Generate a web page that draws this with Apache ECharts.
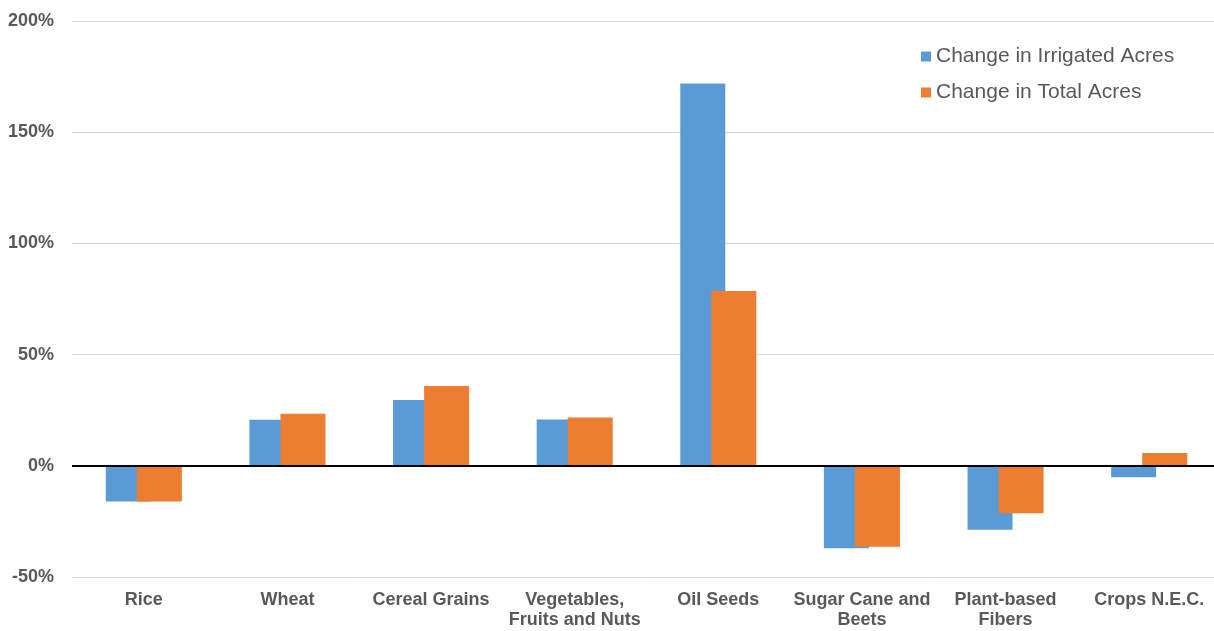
<!DOCTYPE html>
<html>
<head>
<meta charset="utf-8">
<script src="https://cdn.jsdelivr.net/npm/echarts@6/dist/echarts.min.js"></script>
<style>
  html, body { margin: 0; padding: 0; background: #fff; overflow: hidden; width: 1214px; height: 631px; }
  #chart { width: 1221px; height: 631px; }
</style>
</head>
<body>
<div id="chart"></div>
<script>
// Crop categories (two-line labels use \n)
const categories = [
  'Rice', 'Wheat', 'Cereal Grains', 'Vegetables,\nFruits and Nuts',
  'Oil Seeds', 'Sugar Cane and\nBeets', 'Plant-based\nFibers', 'Crops N.E.C.'
];
// Percent change by crop
const irrigatedChange = [-16.0, 20.7, 29.6, 20.8, 171.9, -37.1, -28.8, -5.2];
const totalChange = [-16.0, 23.4, 35.9, 21.7, 78.6, -36.4, -21.3, 5.7];
// Value axis ticks
const yMin = -50, yMax = 200, yStep = 50;

const textColor = '#595959';
const fontFamily = '"Liberation Sans", Arial, sans-serif';

const chart = echarts.init(document.getElementById('chart'));
chart.setOption({
  animation: false,
  grid: { left: 72, right: 0, top: 21, bottom: 54, containLabel: false, outerBoundsMode: 'none' },
  legend: {
    orient: 'vertical',
    left: 916,
    top: 41,
    itemWidth: 10,
    itemHeight: 10,
    itemGap: 15,
    icon: 'rect',
    textStyle: { color: textColor, fontSize: 21, fontFamily: fontFamily },
    data: ['Change in Irrigated Acres', 'Change in Total Acres']
  },
  xAxis: {
    type: 'category',
    data: categories,
    axisLine: { show: false },
    axisTick: { show: false },
    axisLabel: {
      color: textColor,
      fontSize: 18,
      fontWeight: 'bold',
      fontFamily: fontFamily,
      lineHeight: 20,
      margin: 13,
      interval: 0
    }
  },
  yAxis: {
    type: 'value',
    min: yMin,
    max: yMax,
    interval: yStep,
    axisLine: { show: false },
    axisTick: { show: false },
    splitLine: { lineStyle: { color: '#d9d9d9', width: 1 } },
    axisLabel: {
      color: textColor,
      fontSize: 18,
      fontWeight: 'bold',
      fontFamily: fontFamily,
      margin: 18,
      formatter: v => v + '%'
    }
  },
  series: [
    {
      name: 'Change in Irrigated Acres',
      type: 'bar',
      data: irrigatedChange,
      barWidth: 45,
      barGap: '-31%',
      itemStyle: { color: '#5B9BD5' },
      markLine: {
        silent: true,
        symbol: 'none',
        label: { show: false },
        lineStyle: { color: '#000', width: 2, type: 'solid' },
        data: [{ yAxis: 0 }]
      }
    },
    {
      name: 'Change in Total Acres',
      type: 'bar',
      data: totalChange,
      barWidth: 45,
      itemStyle: { color: '#ED7D31' }
    }
  ]
});
</script>
</body>
</html>
